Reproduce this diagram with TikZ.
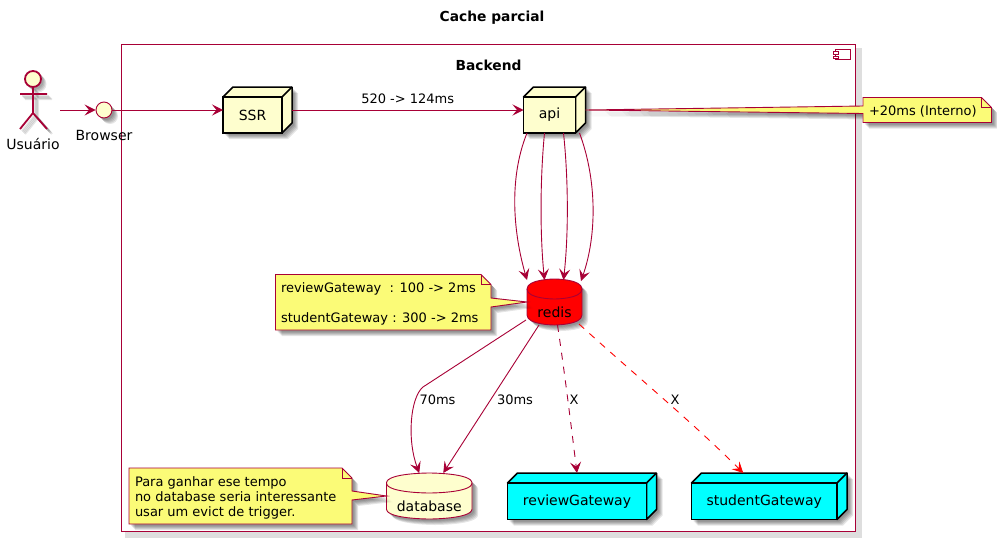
\documentclass[tikz,border=0pt]{standalone}
\usepackage{fontspec}
\setmainfont{DejaVu Sans}
\usetikzlibrary{arrows.meta,calc}
\definecolor{pline}{HTML}{A80036}
\definecolor{pfill}{HTML}{FEFECE}
\definecolor{nfill}{HTML}{FBFB77}
\definecolor{gwfill}{HTML}{00FFFF}
\tikzset{
  x=1pt,y=-1pt,
  conn/.style={draw=pline,line width=.9pt,-{Stealth[length=11pt,width=11pt,inset=4.5pt]}},
  redconn/.style={draw=red,line width=.9pt,dash pattern=on 7pt off 7pt,-{Stealth[length=11pt,width=11pt,inset=4.5pt]}},
  dashconn/.style={conn,dash pattern=on 7pt off 7pt},
  txt/.style={inner sep=0pt,outer sep=0pt,text=black,font=\fontsize{14}{16}\selectfont},
  lbl/.style={inner sep=0pt,outer sep=0pt,text=black,font=\fontsize{13}{15}\selectfont},
  ttl/.style={inner sep=0pt,outer sep=0pt,text=black,font=\fontsize{13.8}{16}\selectfont\bfseries},
  softsh/.style={fill=black,opacity=.1,draw=none},
  softln/.style={draw=black,opacity=.1,line width=2pt},
  notefill/.style={fill=nfill,draw=pline,line width=.9pt},
}
% cuboid: name, x1,y1 (front top left), x2,y2 (front bottom right), fill, text
\newcommand\cuboidbox[7]{%
  \foreach \sh in {2,3,4,5,6}{\fill[softsh,shift={(\sh,\sh)}] (#2,#5) -- (#2,#3) -- ({#2+10},{#3-10}) -- ({#4+10},{#3-10}) -- ({#4+10},{#5-10}) -- (#4,#5) -- cycle;}
  \draw[black,line width=1.5pt,line join=round,fill=#6] (#2,#3) -- ({#2+10},{#3-10}) -- ({#4+10},{#3-10}) -- ({#4+10},{#5-10}) -- (#4,#5) -- (#4,#3) -- cycle;
  \draw[black,line width=1.5pt,line join=round] (#4,#3) -- ({#4+10},{#3-10});
  \node[txt,draw=black,line width=1.5pt,fill=#6,minimum width={(#4-#2)*1pt},minimum height={(#5-#3)*1pt}] (#1) at ({(#2+#4)/2},{(#3+#5)/2}) {#7};
}
% cylinder: name, x, y, w, h, fill, outline, text
\newcommand\cylbox[8]{%
  \foreach \sh in {2,3,4,5,6}{\fill[softsh,shift={(\sh,\sh)}] (#2,{#3+10}) .. controls (#2,#3) and ({#2+#4/2},#3) .. ({#2+#4/2},#3) .. controls ({#2+#4/2},#3) and ({#2+#4},#3) .. ({#2+#4},{#3+10}) -- ({#2+#4},{#3+#5-10}) .. controls ({#2+#4},{#3+#5}) and ({#2+#4/2},{#3+#5}) .. ({#2+#4/2},{#3+#5}) .. controls ({#2+#4/2},{#3+#5}) and (#2,{#3+#5}) .. (#2,{#3+#5-10}) -- cycle;}
  \draw[draw=#7,line width=.9pt,fill=#6] (#2,{#3+10}) .. controls (#2,#3) and ({#2+#4/2},#3) .. ({#2+#4/2},#3) .. controls ({#2+#4/2},#3) and ({#2+#4},#3) .. ({#2+#4},{#3+10}) -- ({#2+#4},{#3+#5-10}) .. controls ({#2+#4},{#3+#5}) and ({#2+#4/2},{#3+#5}) .. ({#2+#4/2},{#3+#5}) .. controls ({#2+#4/2},{#3+#5}) and (#2,{#3+#5}) .. (#2,{#3+#5-10}) -- cycle;
  \draw[draw=#7,line width=.9pt] (#2,{#3+10}) .. controls (#2,{#3+20}) and ({#2+#4/2},{#3+20}) .. ({#2+#4/2},{#3+20}) .. controls ({#2+#4/2},{#3+20}) and ({#2+#4},{#3+20}) .. ({#2+#4},{#3+10});
  \node[txt,minimum width={#4*1pt},minimum height={#5*1pt}] (#1) at ({#2+#4/2},{#3+#5/2}) {};
  \node[txt] (#1label) at ({#2+#4/2},{#3+33}) {#8};
}
% note with wedge on the right: x1 y1 x2 y2 wy1 wy2 tip opts
\newcommand\notepolyR[8]{%
  \path[#8] ({#1+\sh},{#2+\sh}) -- ({#3-10+\sh},{#2+\sh}) -- ({#3+\sh},{#2+10+\sh}) -- ({#3+\sh},{#5+\sh}) -- ($(#7)+(\sh,\sh)$) -- ({#3+\sh},{#6+\sh}) -- ({#3+\sh},{#4+\sh}) -- ({#1+\sh},{#4+\sh}) -- cycle;}
% note with wedge on the left
\newcommand\notepolyL[8]{%
  \path[#8] ({#1+\sh},{#2+\sh}) -- ({#3-10+\sh},{#2+\sh}) -- ({#3+\sh},{#2+10+\sh}) -- ({#3+\sh},{#4+\sh}) -- ({#1+\sh},{#4+\sh}) -- ({#1+\sh},{#6+\sh}) -- ($(#7)+(\sh,\sh)$) -- ({#1+\sh},{#5+\sh}) -- cycle;}
\newcommand\notefold[3]{\draw[pline,line width=.9pt] ({#3-10},#2) -- ({#3-10},{#2+10}) -- (#3,{#2+10});}
\begin{document}
\begin{tikzpicture}
\useasboundingbox (0,0) rectangle (997,544);
\fill[white] (0,0) rectangle (997,544);

\node[ttl] (title) at (492,18) {Cache parcial};

% Backend frame
\fill[black!13] (124.5,47.5) rectangle (861.5,537.5);
\node[draw=pline,fill=white,line width=.9pt,inner sep=0pt,minimum width=734pt,minimum height=487pt] (backend) at (488.5,288) {};
\node[ttl] (backendlabel) at (488.5,65) {Backend};
\draw[pline,line width=.9pt] (835.7,49.5) rectangle (850.7,59.5);
\draw[pline,line width=.9pt,fill=white] (833.7,51.5) rectangle (838,54) (833.7,56) rectangle (838,58.5);

% Actor
\foreach \sh in {2,3,4,5}{
  \begin{scope}[shift={(\sh,\sh)}]
    \fill[softsh] (33,79) circle (8.5);
    \draw[softln] (33,87) -- (33,113) (20,94) -- (47,94) (33,113) -- (20,129) (33,113) -- (47,129);
  \end{scope}}
\draw[pline,line width=1.8pt,fill=pfill] (33,79) circle (8);
\draw[pline,line width=1.8pt] (33,87) -- (33,113) (20,94) -- (47,94) (33,113) -- (20,129) (33,113) -- (47,129);
\node[inner sep=0pt,minimum width=54pt,minimum height=60pt] (usuario) at (33,110) {};
\node[txt] (usuariolabel) at (33,144) {Usuário};

% Browser interface
\foreach \sh in {2,3,4,5,6}{\fill[softsh] ({104+\sh},{110+\sh}) circle (8);}
\node[circle,draw=pline,fill=pfill,line width=.9pt,minimum size=16pt,inner sep=0pt] (browser) at (104,110) {};
\node[txt] (browserlabel) at (104,135) {Browser};

% Boxes
\cuboidbox{ssr}{223}{97}{282}{133}{pfill}{SSR}
\cuboidbox{api}{523.5}{97}{575.5}{133}{pfill}{api}
\cuboidbox{review}{507.5}{483}{646.5}{519.5}{gwfill}{reviewGateway}
\cuboidbox{student}{691.5}{483}{837}{519.5}{gwfill}{studentGateway}

% Databases
\cylbox{redis}{527}{279}{55}{46}{red}{pline}{redis}
\cylbox{database}{386.5}{473}{85.5}{46}{pfill}{pline}{database}

% Connectors
\draw[conn] (usuario.east) -- (browser.west);
\draw[conn] (browser.east) -- ($(ssr.west)+(0,-5)$);
\draw[conn] ($(ssr.east)+(10,-5)$) -- node[lbl,pos=.5,yshift=11.5pt] (l520) {520 -> 124ms} ($(api.west)+(0,-5)$);
\draw[conn] ($(api.south west)+(3.5,0)$) .. controls (508,180) and (514,235) .. ($(redis.north west)+(0,1)$);
\draw[conn] ($(api.south west)+(21,0)$) .. controls (540,180) and (540,235) .. ($(redis.north west)+(17.5,1)$);
\draw[conn] ($(api.south west)+(40,0)$) .. controls (568.5,180) and (568.5,235) .. ($(redis.north west)+(36.5,1)$);
\draw[conn] ($(api.south east)+(4,0)$) .. controls (597,180) and (597,235) .. ($(redis.north east)+(-1,2)$);
\draw[conn] ($(redis.west)+(-1,18)$) -- (423,387) .. controls (410,398) and (407,440) .. ($(database.north)+(-10,0)$);
\draw[conn] ($(redis.south)+(-15.5,0)$) -- ($(database.north)+(14,0)$);
\draw[dashconn] ($(redis.south)+(3,0)$) .. controls (565,375) and (571,425) .. ($(review.north)+(0,-10)$);
\draw[redconn] ($(redis.south east)+(-3,-1)$) .. controls (635,375) and (690,420) .. ($(student.north)+(-21,-10)$);

\node[lbl] (l70) at (437.5,400) {70ms};
\node[lbl] (l30) at (515,400) {30ms};
\node[lbl] (lx1) at (574,400) {X};
\node[lbl] (lx2) at (675,400) {X};

% Notes
\foreach \sh in {2,3,4,5,6}{\notepolyL{863}{97.5}{991.5}{122.5}{106}{113.5}{$(api.east)+(10,-5)$}{softsh}}
\def\sh{0}
\notepolyL{863}{97.5}{991.5}{122.5}{106}{113.5}{$(api.east)+(10,-5)$}{notefill}
\notefold{863}{97.5}{991.5}
\node[lbl,anchor=west] (n20) at (869,111) {+20ms (Interno)};

\foreach \sh in {2,3,4,5,6}{\notepolyR{275.5}{274.5}{491}{330}{298}{307}{redis.west}{softsh}}
\def\sh{0}
\notepolyR{275.5}{274.5}{491}{330}{298}{307}{redis.west}{notefill}
\notefold{275.5}{274.5}{491}
\node[lbl,anchor=west,align=left] (nredis) at (281,304) {reviewGateway\ \ : 100 -> 2ms\\[0pt] \\[0pt]studentGateway : 300 -> 2ms};

\foreach \sh in {2,3,4,5,6}{\notepolyR{129}{468}{352}{524}{491}{500}{database.west}{softsh}}
\def\sh{0}
\notepolyR{129}{468}{352}{524}{491}{500}{database.west}{notefill}
\notefold{129}{468}{352}
\node[lbl,anchor=west,align=left] (ndb) at (135,498) {Para ganhar ese tempo\\no database seria interessante\\usar um evict de trigger.};
\end{tikzpicture}
\end{document}
